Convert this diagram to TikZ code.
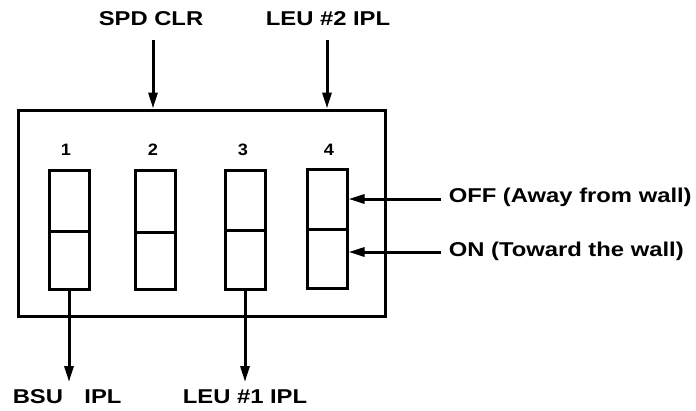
\documentclass[tikz,border=0pt]{standalone}
\usepackage{fontspec}
\setmainfont{Liberation Sans}
\usetikzlibrary{arrows.meta}
\begin{document}
\begin{tikzpicture}[x=1pt,y=-1pt,
  line width=3pt,
  lbl/.style={font=\fontsize{20}{24}\selectfont\bfseries, inner sep=0pt, xscale=1.19},
  num/.style={font=\fontsize{16.5}{20}\selectfont\bfseries, inner sep=0pt, xscale=1.1},
  sw/.style={draw, line width=3pt, minimum width=40pt, minimum height=119pt, inner sep=0pt},
  arr/.style={line width=3pt, -{Triangle[length=16pt,width=9pt]}}]
\useasboundingbox (0,0) rectangle (696,410);
\node[draw, line width=3pt, minimum width=367pt, minimum height=206pt, inner sep=0pt] (box) at (201.5,213) {};
% switches
\node[sw] (s1) at (69,229.5) {};
\node[sw] (s2) at (155,229.5) {};
\node[sw] (s3) at (245,229.5) {};
\node[sw] (s4) at (327,228.5) {};
\draw (s1.west |- 0,231) coordinate (d1l) -- (s1.east |- 0,231) coordinate (d1r);
\draw (s2.west |- 0,232) coordinate (d2l) -- (s2.east |- 0,232) coordinate (d2r);
\draw (s3.west |- 0,230) coordinate (d3l) -- (s3.east |- 0,230) coordinate (d3r);
\draw (s4.west |- 0,229) coordinate (d4l) -- (s4.east |- 0,229) coordinate (d4r);
% numbers
\node[num] (n1) at (66,150) {1};
\node[num] (n2) at (153,150) {2};
\node[num] (n3) at (243,150) {3};
\node[num] (n4) at (329,150) {4};
% top labels
\node[lbl] (spd) at (151,19) {SPD CLR};
\node[lbl] (leu2) at (328,19) {LEU \#2 IPL};
\draw[arr] (153,40) coordinate (t2) -- (t2 |- box.north);
\draw[arr] (327,40) coordinate (t4) -- (t4 |- box.north);
% right labels
\node[lbl, anchor=west] (off) at (447,197) {OFF (Away from wall)};
\node[lbl, anchor=west] (on) at (447,251) {ON (Toward the wall)};
\draw[arr] (off.west |- 0,199) ++(-6,0) coordinate (o1) -- (s4.east |- o1);
\draw[arr] (on.west |- 0,252) ++(-6,0) coordinate (o2) -- (s4.east |- o2);
% bottom labels
\node[lbl, anchor=west] (bsu) at (11,397) {BSU\hspace{0.9em}IPL};
\node[lbl] (leu1) at (245,397) {LEU \#1 IPL};
\draw[arr] (s1.south) -- (s1.south |- 0,382);
\draw[arr] (s3.south) -- (s3.south |- 0,382);
\end{tikzpicture}
\end{document}
